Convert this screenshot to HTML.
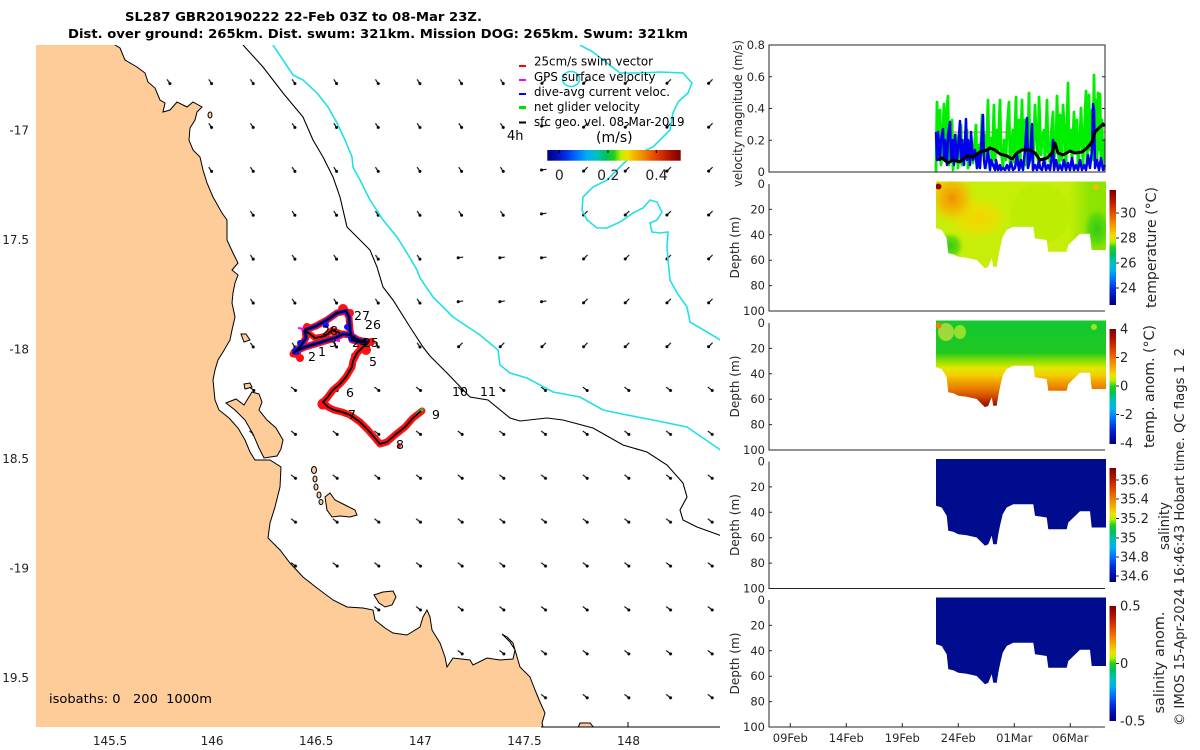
<!DOCTYPE html>
<html><head><meta charset="utf-8"><style>
html,body{margin:0;padding:0;background:#fff;}
svg{display:block;}
text{font-family:"DejaVu Sans","Liberation Sans",sans-serif;}
</style></head><body>
<svg width="1200" height="750" viewBox="0 0 1200 750" xmlns="http://www.w3.org/2000/svg">
<defs>
 <linearGradient id="cbv" x1="0" y1="0" x2="0" y2="1">
  <stop offset="0" stop-color="#7a0000"/><stop offset="0.08" stop-color="#b01000"/>
  <stop offset="0.18" stop-color="#e04000"/><stop offset="0.27" stop-color="#f08000"/>
  <stop offset="0.34" stop-color="#f4b000"/><stop offset="0.40" stop-color="#f0e000"/>
  <stop offset="0.45" stop-color="#b8f000"/><stop offset="0.50" stop-color="#20d020"/>
  <stop offset="0.56" stop-color="#00c060"/><stop offset="0.63" stop-color="#00c0c0"/>
  <stop offset="0.70" stop-color="#00b0f0"/><stop offset="0.78" stop-color="#0070ff"/>
  <stop offset="0.86" stop-color="#0030e0"/><stop offset="0.93" stop-color="#0010b0"/>
  <stop offset="1" stop-color="#000080"/>
 </linearGradient>
 <linearGradient id="cbh" x1="0" y1="0" x2="1" y2="0">
  <stop offset="0" stop-color="#000080"/><stop offset="0.07" stop-color="#0010b0"/>
  <stop offset="0.14" stop-color="#0030e0"/><stop offset="0.22" stop-color="#0070ff"/>
  <stop offset="0.30" stop-color="#00b0f0"/><stop offset="0.37" stop-color="#00c0c0"/>
  <stop offset="0.44" stop-color="#00c060"/><stop offset="0.50" stop-color="#20d020"/>
  <stop offset="0.55" stop-color="#b8f000"/><stop offset="0.60" stop-color="#f0e000"/>
  <stop offset="0.66" stop-color="#f4b000"/><stop offset="0.73" stop-color="#f08000"/>
  <stop offset="0.82" stop-color="#e04000"/><stop offset="0.92" stop-color="#b01000"/>
  <stop offset="1" stop-color="#7a0000"/>
 </linearGradient>
 <linearGradient id="anomG" gradientUnits="userSpaceOnUse" x1="0" y1="0" x2="0" y2="85">
  <stop offset="0" stop-color="#14c830"/><stop offset="0.35" stop-color="#20c820"/>
  <stop offset="0.45" stop-color="#90e000"/><stop offset="0.53" stop-color="#e0e800"/>
  <stop offset="0.61" stop-color="#f4d000"/><stop offset="0.68" stop-color="#f0a800"/>
  <stop offset="0.78" stop-color="#e87800"/><stop offset="0.87" stop-color="#d04800"/>
  <stop offset="0.94" stop-color="#a82000"/><stop offset="1" stop-color="#8a1000"/>
 </linearGradient>
 <linearGradient id="rightG" gradientUnits="userSpaceOnUse" x1="1068" y1="0" x2="1090" y2="0">
  <stop offset="0" stop-color="#7ae000" stop-opacity="0"/><stop offset="1" stop-color="#7ae000" stop-opacity="0.75"/>
 </linearGradient>
 <radialGradient id="rgO"><stop offset="0" stop-color="#f09000"/><stop offset="0.55" stop-color="#f4b800" stop-opacity="0.85"/><stop offset="1" stop-color="#f4d000" stop-opacity="0"/></radialGradient>
 <radialGradient id="rgY"><stop offset="0" stop-color="#f4d400"/><stop offset="0.6" stop-color="#f0dc00" stop-opacity="0.7"/><stop offset="1" stop-color="#e8e400" stop-opacity="0"/></radialGradient>
 <radialGradient id="rgG"><stop offset="0" stop-color="#30cc10"/><stop offset="0.6" stop-color="#50d410" stop-opacity="0.8"/><stop offset="1" stop-color="#80e000" stop-opacity="0"/></radialGradient>
 <path id="prof" d="M936,-2.5 L1106,-2.5 L1106,66 L1091.7,66 L1090,49.7 L1080,49.7 L1068.3,61 L1066.7,67.7 L1048.3,67.7 L1046.7,56 L1035,54.3 L1033.3,42.7 L1013.3,42.7 L1006.7,46 L1002.7,52.7 L1000,64.3 L998.3,72.7 L996.7,82.7 L993.3,82.7 L991.7,74.3 L988.3,82.7 L985,84.3 L981.7,81 L976.7,76 L966.7,73.7 L958.3,72.7 L953.3,70.3 L948.3,69.3 L946.7,54.3 L941.7,46 L936,44.3 Z"/>
 <clipPath id="profclip"><use href="#prof"/></clipPath>
 <clipPath id="mapclip"><rect x="36" y="45" width="684" height="682"/></clipPath>
 <pattern id="pA" patternUnits="userSpaceOnUse" x="147.5" y="15.85" width="41.67" height="43.9"><path d="M19.6 19.6 L22.4 23.8" stroke="#000" stroke-width="1.1"/><circle cx="22.4" cy="23.8" r="1.5" fill="#000"/></pattern>
 <pattern id="pB" patternUnits="userSpaceOnUse" x="147.5" y="15.85" width="41.67" height="43.9"><path d="M23.4 19.6 L19.4 23.6" stroke="#000" stroke-width="1.1"/><circle cx="19.4" cy="23.6" r="1.5" fill="#000"/></pattern>
 <pattern id="pC" patternUnits="userSpaceOnUse" x="147.5" y="15.85" width="41.67" height="43.9"><path d="M24 21.7 L19 22.4" stroke="#000" stroke-width="1.1"/><circle cx="19" cy="22.4" r="1.5" fill="#000"/></pattern>
 <pattern id="pD" patternUnits="userSpaceOnUse" x="147.5" y="15.85" width="41.67" height="43.9"><path d="M18.6 20 L23 23.4" stroke="#000" stroke-width="1.1"/><circle cx="23" cy="23.4" r="1.5" fill="#000"/></pattern>
</defs>

<!-- Title -->
<text x="125" y="21" font-size="12" font-weight="bold" fill="#000" textLength="357" lengthAdjust="spacingAndGlyphs">SL287 GBR20190222 22-Feb 03Z to 08-Mar 23Z.</text>
<text x="68" y="38" font-size="12" font-weight="bold" fill="#000" textLength="620" lengthAdjust="spacingAndGlyphs">Dist. over ground: 265km. Dist. swum: 321km. Mission DOG: 265km. Swum: 321km</text>

<!-- MAP -->
<g clip-path="url(#mapclip)">
 <rect x="36" y="45" width="484" height="195" fill="url(#pA)"/>
 <rect x="36" y="240" width="404" height="140" fill="url(#pA)"/>
 <rect x="520" y="100" width="40" height="140" fill="url(#pC)"/>
 <rect x="440" y="240" width="120" height="90" fill="url(#pC)"/>
 <rect x="520" y="45" width="200" height="55" fill="url(#pB)"/>
 <rect x="560" y="100" width="160" height="280" fill="url(#pB)"/>
 <rect x="440" y="330" width="120" height="50" fill="url(#pB)"/>
 <rect x="36" y="380" width="684" height="347" fill="url(#pD)"/>

 <path d="M30,40 L115,40 L115,45 L120,48 L125,60 L137,67 L145,73 L148,82 L155,88 L160,100 L165,103 L163,112 L170,110 L177,102 L187,107 L193,102 L202,107 L197,112 L195,120 L190,128 L189,140 L193,150 L200,157 L203,170 L207,183 L213,197 L222,213 L227,220 L227,240 L233,253 L238,263 L232,270 L238,275 L235,283 L233,293 L232,303 L235,317 L232,330 L230,340 L223,352 L218,360 L215,370 L213,380 L215,400 L219,410 L229,418 L238,428 L245,440 L250,452 L255,460 L270,460 L281,467 L280,487 L275,507 L270,523 L268,538 L280,550 L290,563 L303,577 L317,588 L333,600 L347,607 L363,608 L373,610 L375,620 L385,628 L393,633 L407,635 L420,627 L423,617 L427,610 L430,617 L432,630 L440,643 L445,657 L447,667 L453,658 L470,660 L473,665 L487,658 L500,660 L513,659 L515,650 L510,642 L502,634 L507,637 L513,643 L520,667 L530,677 L535,690 L540,702 L545,713 L542,723 L545,735 L30,735 Z" fill="#fdcc99" stroke="#000" stroke-width="1"/>
 <g fill="#fdcc99" stroke="#000" stroke-width="1">
  <path d="M226,403 L236,399 L244,405 L252,392 L259,394 L262,402 L259,410 L267,420 L276,428 L283,440 L281,449 L277,456 L264,458 L259,448 L253,434 L245,420 L235,410 Z"/>
  <path d="M325,497 L330,493 L335,500 L345,505 L355,510 L357,515 L350,517 L340,516 L332,517 L327,510 Z"/>
  <ellipse cx="314" cy="470" rx="2.5" ry="3.5"/><ellipse cx="315" cy="479" rx="2" ry="3"/>
  <ellipse cx="316" cy="487" rx="2" ry="3"/><ellipse cx="319" cy="495" rx="2" ry="3"/>
  <ellipse cx="321" cy="502" rx="2" ry="2.5"/>
  <path d="M374,595 L383,592 L393,591 L396,597 L392,605 L385,607 L379,603 Z"/>
  <path d="M241,334 L246,334 L250,340 L244,342 Z"/>
  <path d="M244,384 L250,383 L252,387 L245,389 Z"/>
  <ellipse cx="210" cy="115" rx="2" ry="3"/>
  <path d="M577,730 L580,723 L590,723 L596,730 Z"/>
 </g>

 <path d="M243,45 L263,67 L283,93 L303,117 L313,140 L323,157 L333,177 L340,197 L347,227 L360,240 L370,250 L377,267 L383,287 L393,300 L410,327 L423,347 L430,356 L447,373 L470,397 L488,400 L510,418 L520,421 L547,418 L563,420 L593,428 L623,445 L647,452 L667,465 L683,483 L687,497 L680,510 L683,520 L697,527 L722,536" fill="none" stroke="#000" stroke-width="1.1"/>
 <path d="M273,45 L283,60 L293,75 L303,80 L317,93 L328,107 L337,123 L345,140 L352,157 L353,167 L360,180 L370,200 L383,220 L397,237 L407,253 L417,270 L420,278 L433,297 L453,317 L480,335 L498,350 L500,365 L510,373 L527,378 L553,392 L580,397 L603,410 L627,415 L653,420 L687,427 L703,438 L722,451" fill="none" stroke="#20e0e8" stroke-width="1.6"/>
 <path d="M580,45 L593,52 L607,63 L620,73 L640,73 L660,72 L683,73 L692,83 L688,93 L678,102 L673,113 L670,130 L663,137 L653,147 L640,153 L627,160 L620,167 L607,180 L593,187 L583,197 L582,210 L587,220 L597,228 L607,228 L620,222 L633,213 L643,208 L650,200 L657,202 L662,212 L657,220 L650,223 L652,232 L660,233 L668,232 L667,247 L668,260 L670,280 L677,293 L687,307 L690,322 L707,332 L722,341" fill="none" stroke="#20e0e8" stroke-width="1.6"/>
 <ellipse cx="571" cy="79" rx="8.5" ry="7.5" fill="none" stroke="#20e0e8" stroke-width="1.6"/>

 <!-- glider track -->
 <g fill="none" stroke-linejoin="round" stroke-linecap="round">
  <path d="M293,354 L300,347 L306,338 L305,330 L316,326 L327,320 L337,313 L346,311 L349,317 L350,330 L352,340 L360,342 L368,343 L363,347 L357,353 L353,361 L352,367 L346,377 L340,384 L333,390 L327,398 L323,402 L328,407 L334,410 L342,412 L350,415 L360,422 L368,430 L375,438 L380,444 L387,442 L395,435 L405,427 L413,418 L422,411" stroke="#ff1010" stroke-width="7"/>
  <path d="M294,352 L305,347 L315,344 L325,341 L335,338 L343,334 L350,335 L358,340 L368,342" stroke="#ff1010" stroke-width="7"/>
  <path d="M306,331 L315,338 L325,336 L332,330 L340,333" stroke="#ff1010" stroke-width="6"/>
 </g>
 <g fill="#ff1010">
  <circle cx="323" cy="404" r="5.5"/><circle cx="296" cy="353" r="5"/><circle cx="300" cy="358" r="4"/>
  <circle cx="307" cy="327" r="4"/><circle cx="343" cy="309" r="5"/><circle cx="350" cy="313" r="4"/>
  <circle cx="362" cy="347" r="5"/><circle cx="366" cy="350" r="5"/><circle cx="355" cy="356" r="4"/>
  <circle cx="371" cy="342" r="4"/><circle cx="399" cy="446" r="2"/>
 </g>
 <g fill="none" stroke="#1010ff" stroke-width="4" stroke-linejoin="round">
  <path d="M293,354 L300,347 L306,338 L305,330 L316,326 L327,320 L337,313 L346,311 L349,317 L350,330 L352,340 L360,342 L368,343"/>
  <path d="M294,352 L305,347 L315,344 L325,341 L335,338 L343,334 L350,335 L358,340 L368,342"/>
 </g>
 <g fill="#1010ff"><circle cx="296" cy="351" r="4"/><circle cx="326" cy="325" r="3"/><circle cx="347" cy="327" r="3"/><circle cx="352" cy="338" r="4"/><circle cx="363" cy="342" r="3"/><circle cx="300" cy="343" r="3"/></g>
 <path d="M417,414 L423,409" stroke="#22cc22" stroke-width="3"/>
 <path d="M298,328 L304,329 M333,340 L340,341" stroke="#f0f" stroke-width="2"/>
 <g fill="none" stroke="#000" stroke-width="1.8" stroke-linejoin="round">
  <path d="M293,354 L300,347 L306,338 L305,330 L316,326 L327,320 L337,313 L346,311 L349,317 L350,330 L352,340 L360,342 L368,343 L363,347 L357,353 L353,361 L352,367 L346,377 L340,384 L333,390 L327,398 L323,402 L328,407 L334,410 L342,412 L350,415 L360,422 L368,430 L375,438 L380,444 L387,442 L395,435 L405,427 L413,418 L421,411"/>
  <path d="M294,352 L305,347 L315,344 L325,341 L335,338 L343,334 L350,335 L358,340 L368,342"/>
  <path d="M306,331 L315,338 L325,336 L332,330 L340,333"/>
 </g>
 <g font-size="12.5" fill="#000">
  <text x="354" y="320">27</text><text x="365" y="329">26</text><text x="322" y="335">28</text>
  <text x="352" y="347">24</text><text x="363" y="347">25</text><text x="369" y="366">5</text>
  <text x="308" y="361">2</text><text x="318" y="356">1</text><text x="329" y="347">3</text>
  <text x="346" y="397">6</text><text x="348" y="419">7</text><text x="396" y="449">8</text>
  <text x="432" y="419">9</text><text x="452" y="396">10</text><text x="480" y="396">11</text>
 </g>
</g>
<path d="M541,727 L720,727 M628,727 L628,722" stroke="#000" stroke-width="1"/>

<!-- map legend -->
<g stroke-width="2">
 <path d="M519,66 H526" stroke="#ff0000"/>
 <path d="M519,80 H526" stroke="#ff00ff"/>
 <path d="M519,94 H526" stroke="#0000ff"/>
 <path d="M519,107.5 H526" stroke="#00e000" stroke-width="3"/>
 <path d="M519,122.5 H526" stroke="#000"/>
</g>
<g font-size="12" fill="#000">
 <text x="534" y="65.7" textLength="119" lengthAdjust="spacingAndGlyphs">25cm/s swim vector</text>
 <text x="534" y="81" textLength="121.5" lengthAdjust="spacingAndGlyphs">GPS surface velocity</text>
 <text x="534" y="96" textLength="136" lengthAdjust="spacingAndGlyphs">dive-avg current veloc.</text>
 <text x="534" y="110.8" textLength="106" lengthAdjust="spacingAndGlyphs">net glider velocity</text>
 <text x="534" y="126" textLength="150.5" lengthAdjust="spacingAndGlyphs">sfc geo. vel. 08-Mar-2019</text>
 <text x="507" y="140" font-size="13">4h</text>
 <text x="596" y="142" font-size="14">(m/s)</text>
</g>
<rect x="547.3" y="150" width="133.4" height="10.7" fill="url(#cbh)"/>
<path d="M559.3,150 V153 M608,150 V153 M656.3,150 V153" stroke="#000" stroke-width="1"/>
<g font-size="14" fill="#222" text-anchor="middle">
 <text x="559.3" y="180">0</text><text x="608.3" y="180">0.2</text><text x="656.5" y="180">0.4</text>
</g>

<!-- map axis labels -->
<g font-size="12" fill="#222" text-anchor="end">
 <text x="29" y="134.5">-17</text><text x="29" y="244">17.5</text><text x="29" y="353.5">-18</text>
 <text x="29" y="463">18.5</text><text x="29" y="572.5">-19</text><text x="29" y="682">19.5</text>
</g>
<g font-size="12" fill="#222" text-anchor="middle">
 <text x="110" y="745">145.5</text><text x="212.1" y="745">146</text><text x="316.2" y="745">146.5</text>
 <text x="420.3" y="745">147</text><text x="524.4" y="745">147.5</text><text x="628.5" y="745">148</text>
</g>
<text x="49" y="703" font-size="12" fill="#000" textLength="163" lengthAdjust="spacingAndGlyphs" xml:space="preserve">isobaths: 0   200  1000m</text>

<!-- RIGHT PANELS -->
<!-- velocity -->
<path d="M953,132.3 H1105" stroke="#ff9a9a" stroke-width="2"/>
<polyline fill="none" stroke="#00ee00" stroke-width="2.8" stroke-linejoin="round" points="936,172 937,102 938,140 940,110 941,165 942,150 944,104 945,160 946,120 948,96 949,165 950,130 952,120 953,170 955,150 956,135 958,168 959,140 961,125 962,165 964,140 965,155 967,130 968,168 970,155 971,140 973,163 974,150 976,125 977,168 979,145 980,165 982,115 983,155 985,135 986,168 988,100 989,150 991,138 992,165 994,105 995,160 997,130 998,150 1000,100 1001,150 1003,168 1004,140 1006,160 1007,130 1009,102 1010,165 1011,150 1013,130 1014,162 1016,97 1017,165 1019,120 1020,168 1022,100 1023,150 1025,120 1026,165 1028,135 1029,93 1030,160 1032,145 1033,170 1035,105 1036,130 1038,160 1039,97 1041,155 1042,140 1044,130 1045,165 1047,100 1048,150 1050,162 1051,135 1053,112 1054,160 1056,145 1057,96 1059,168 1060,115 1062,160 1063,105 1065,140 1066,168 1068,83 1069,150 1071,130 1072,165 1074,112 1075,150 1077,120 1078,165 1080,140 1081,108 1083,165 1084,140 1086,91 1087,165 1089,95 1090,150 1092,110 1093,160 1094,75 1095,140 1096,100 1097,165 1098,93 1099,150 1100,94 1101,160 1102,120 1103,168 1104,140 1105,140"/>
<polyline fill="none" stroke="#0000ee" stroke-width="2.5" stroke-linejoin="round" points="936,132 937,160 938,132 940,160 941,140 943,129 944,160 945,140 947,165 948,135 950,122 951,160 953,140 954,165 955,135 957,160 958,150 960,121 961,160 962,140 964,165 966,119 967,160 968,140 970,165 971,132 973,160 975,150 977,168 978,155 980,168 981,150 983,115 984,160 985,168 987,160 988,150 990,170 991,160 993,165 995,170 996,160 998,170 1000,165 1001,170 1003,168 1005,170 1007,165 1009,170 1011,162 1013,170 1015,168 1017,155 1019,170 1021,160 1023,170 1025,150 1027,118 1028,168 1030,160 1032,124 1033,170 1035,165 1037,170 1039,160 1040,168 1042,170 1044,160 1046,170 1048,165 1050,170 1052,155 1053,140 1054,170 1056,160 1058,170 1060,165 1062,170 1064,160 1066,170 1068,163 1070,170 1072,158 1074,170 1076,165 1078,170 1080,160 1082,170 1084,165 1086,170 1088,155 1090,168 1092,150 1093,104 1094,110 1095,168 1097,160 1099,170 1101,158 1103,170 1105,165"/>
<polyline fill="none" stroke="#000" stroke-width="3" stroke-linejoin="round" points="938,160 942,158 948,163 953,160 960,162 967,156 973,157 980,152 987,150 990,148 995,150 1000,154 1007,156 1012,159 1017,153 1022,150 1030,150 1035,153 1040,160 1047,158 1052,153 1055,143 1058,153 1063,155 1070,151 1075,153 1082,152 1087,148 1092,142 1095,132 1100,127 1103,124 1105,126"/>
<rect x="769" y="45" width="336" height="127" fill="none" stroke="#262626" stroke-width="1"/>
<path d="M769,76.75 h3 M769,108.5 h3 M769,140.25 h3 M1105,76.75 h-3 M1105,108.5 h-3 M1105,140.25 h-3" stroke="#262626"/>
<g font-size="11.5" fill="#262626" text-anchor="end">
 <text x="765" y="49">0.8</text><text x="765" y="80.75">0.6</text><text x="765" y="112.5">0.4</text><text x="765" y="144.25">0.2</text><text x="765" y="176">0</text>
</g>
<text transform="translate(742,113.5) rotate(-90)" font-size="12" fill="#262626" text-anchor="middle" textLength="147" lengthAdjust="spacingAndGlyphs">velocity magnitude (m/s)</text>

<!-- temperature -->
<g transform="translate(0,184)">
 <g clip-path="url(#profclip)">
  <rect x="930" y="-5" width="180" height="95" fill="#c6ee08"/>
  <ellipse cx="1040" cy="30" rx="30" ry="30" fill="#b8ec00" opacity="0.6"/>
  <ellipse cx="978" cy="34" rx="30" ry="22" fill="url(#rgY)"/>
  <ellipse cx="952" cy="14" rx="24" ry="26" fill="url(#rgO)"/>
  <ellipse cx="950" cy="62" rx="14" ry="14" fill="url(#rgG)"/>
  <rect x="1068" y="-5" width="40" height="75" fill="url(#rightG)"/>
  <ellipse cx="1097" cy="45" rx="14" ry="22" fill="url(#rgG)"/>
  <circle cx="938.5" cy="2.5" r="3" fill="#a00000"/>
  <circle cx="1096" cy="3" r="3" fill="#f0c000"/>
 </g>
</g>
<!-- temp anomaly -->
<g transform="translate(0,323)">
 <g clip-path="url(#profclip)">
  <rect x="930" y="-5" width="180" height="95" fill="url(#anomG)"/>
  <ellipse cx="946" cy="9" rx="8" ry="9" fill="#d8e040" opacity="0.7"/>
  <ellipse cx="960" cy="9" rx="6" ry="7" fill="#c8e830" opacity="0.7"/>
  <circle cx="938.5" cy="2.5" r="3" fill="#e88000"/>
  <circle cx="1094" cy="4" r="3" fill="#a8e020"/>
 </g>
</g>
<use href="#prof" transform="translate(0,461.5)" fill="#000c8e"/>
<use href="#prof" transform="translate(0,600)" fill="#000c8e"/>

<!-- depth axes -->
<g stroke="#262626" stroke-width="1" fill="none">
 <path d="M769,184 V311 H1105"/>
 <path d="M769,323 V450 H1105"/>
 <path d="M769,461.5 V588.5 H1105"/>
 <path d="M769,600 V727 H1105"/>
 <path d="M769,209.4 h3 M769,234.8 h3 M769,260.2 h3 M769,285.6 h3"/>
 <path d="M769,348.4 h3 M769,373.8 h3 M769,399.2 h3 M769,424.6 h3"/>
 <path d="M769,486.9 h3 M769,512.3 h3 M769,537.7 h3 M769,563.1 h3"/>
 <path d="M769,625.4 h3 M769,650.8 h3 M769,676.2 h3 M769,701.6 h3"/>
 <path d="M790.3,727 v-4 M846.3,727 v-4 M902.3,727 v-4 M958.3,727 v-4 M1014.3,727 v-4 M1070.3,727 v-4"/>
</g>
<g font-size="11.5" fill="#262626" text-anchor="end">
 <text x="765" y="188">0</text><text x="765" y="213.4">20</text><text x="765" y="238.8">40</text><text x="765" y="264.2">60</text><text x="765" y="289.6">80</text><text x="765" y="315">100</text>
 <text x="765" y="327">0</text><text x="765" y="352.4">20</text><text x="765" y="377.8">40</text><text x="765" y="403.2">60</text><text x="765" y="428.6">80</text><text x="765" y="454">100</text>
 <text x="765" y="465.5">0</text><text x="765" y="490.9">20</text><text x="765" y="516.3">40</text><text x="765" y="541.7">60</text><text x="765" y="567.1">80</text><text x="765" y="592.5">100</text>
 <text x="765" y="604">0</text><text x="765" y="629.4">20</text><text x="765" y="654.8">40</text><text x="765" y="680.2">60</text><text x="765" y="705.6">80</text><text x="765" y="731">100</text>
</g>
<g font-size="12" fill="#262626" text-anchor="middle">
 <text transform="translate(739,247.5) rotate(-90)" textLength="62" lengthAdjust="spacingAndGlyphs">Depth (m)</text>
 <text transform="translate(739,386.5) rotate(-90)" textLength="62" lengthAdjust="spacingAndGlyphs">Depth (m)</text>
 <text transform="translate(739,525) rotate(-90)" textLength="62" lengthAdjust="spacingAndGlyphs">Depth (m)</text>
 <text transform="translate(739,663.5) rotate(-90)" textLength="62" lengthAdjust="spacingAndGlyphs">Depth (m)</text>
</g>
<g font-size="11.5" fill="#262626" text-anchor="middle">
 <text x="790.3" y="742">09Feb</text><text x="846.3" y="742">14Feb</text><text x="902.3" y="742">19Feb</text>
 <text x="958.3" y="742">24Feb</text><text x="1014.3" y="742">01Mar</text><text x="1070.3" y="742">06Mar</text>
</g>

<!-- colorbars -->
<rect x="1109.5" y="190" width="6.5" height="115" fill="url(#cbv)"/>
<rect x="1109.5" y="329" width="6.5" height="115" fill="url(#cbv)"/>
<rect x="1109.5" y="468" width="6.5" height="114" fill="url(#cbv)"/>
<rect x="1109.5" y="606" width="6.5" height="115" fill="url(#cbv)"/>
<path d="M1116,213 h3 M1116,238 h3 M1116,263 h3 M1116,288 h3 M1116,357.5 h3 M1116,386 h3 M1116,414.5 h3 M1116,480 h3 M1116,499 h3 M1116,518.5 h3 M1116,538 h3 M1116,557 h3 M1116,576 h3 M1116,663.5 h3" stroke="#262626"/>
<g font-size="13" fill="#262626">
 <text x="1120" y="217.5">30</text><text x="1120" y="242.5">28</text><text x="1120" y="267.5">26</text><text x="1120" y="292.5">24</text>
 <text x="1120" y="333.5">4</text><text x="1120" y="362">2</text><text x="1120" y="390.5">0</text><text x="1120" y="419">-2</text><text x="1120" y="447.5">-4</text>
 <text x="1120" y="484.5">35.6</text><text x="1120" y="503.5">35.4</text><text x="1120" y="523">35.2</text><text x="1120" y="542.5">35</text><text x="1120" y="561.5">34.8</text><text x="1120" y="580.5">34.6</text>
 <text x="1120" y="610.5">0.5</text><text x="1120" y="668">0</text><text x="1120" y="725.5">-0.5</text>
</g>
<g font-size="14" fill="#262626" text-anchor="middle">
 <text transform="translate(1156,247.5) rotate(-90)" textLength="121" lengthAdjust="spacingAndGlyphs">temperature (°C)</text>
 <text transform="translate(1154,386.5) rotate(-90)" textLength="123" lengthAdjust="spacingAndGlyphs">temp. anom. (°C)</text>
 <text transform="translate(1169,526) rotate(-90)" textLength="48" lengthAdjust="spacingAndGlyphs">salinity</text>
 <text transform="translate(1164,662.5) rotate(-90)" textLength="102" lengthAdjust="spacingAndGlyphs">salinity anom.</text>
 <text transform="translate(1184,537) rotate(-90)" font-size="13" textLength="378" lengthAdjust="spacingAndGlyphs" xml:space="preserve">© IMOS 15-Apr-2024 16:46:43 Hobart time. QC flags 1  2</text>
</g>
</svg>
</body></html>
